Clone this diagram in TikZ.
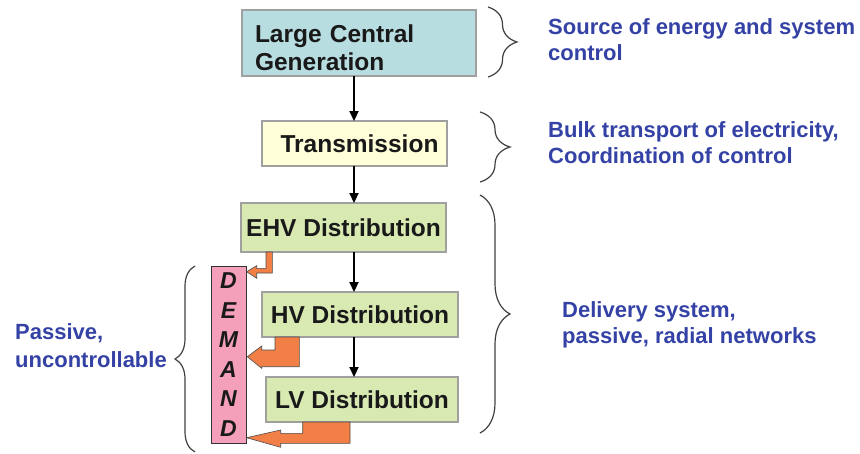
\documentclass[tikz,border=0pt]{standalone}
\usepackage{fontspec}
\setmainfont{Liberation Sans}
\usetikzlibrary{arrows.meta,decorations.pathreplacing}
\definecolor{genfill}{RGB}{184,221,225}
\definecolor{transfill}{RGB}{255,255,218}
\definecolor{distfill}{RGB}{216,234,178}
\definecolor{demfill}{RGB}{245,160,186}
\definecolor{feedfill}{RGB}{242,128,70}
\definecolor{notecol}{RGB}{52,66,165}
\definecolor{edgecol}{RGB}{160,160,160}
\begin{document}
\begin{tikzpicture}[x=1pt,y=-1pt,
  box/.style={draw=edgecol,line width=1.5pt,anchor=north west,outer sep=0pt,
    inner sep=0pt,text=black!90,font=\bfseries\fontsize{24.5}{28.5}\selectfont},
  flow/.style={line width=2.2pt,-{Triangle[length=10pt,width=9pt]}},
  feed/.style={fill=feedfill,draw=black!70,line width=0.6pt,line join=miter},
  curly/.style={draw=black!75,line width=1.2pt,decorate,
    decoration={brace,amplitude=#1}},
  note/.style={text=notecol,anchor=west,align=left,inner sep=0pt,
    font=\bfseries\fontsize{22}{26}\selectfont}]
\useasboundingbox (0,0) rectangle (860,453);
% Kasten
\node[box,fill=genfill,minimum width=234,minimum height=66,
  text width=208,align=left,text depth=19pt] (gen) at (242,10) {Large Central\\Generation};
\node[box,fill=transfill,minimum width=185,minimum height=45] (trans) at (262,121) {\hspace{10pt}Transmission};
\node[box,fill=distfill,minimum width=205,minimum height=49] (ehv) at (241,203) {EHV Distribution};
\node[box,fill=distfill,minimum width=196,minimum height=45] (hv) at (262,292) {HV Distribution};
\node[box,fill=distfill,minimum width=192,minimum height=45] (lv) at (266,377) {LV Distribution};
\node[box,fill=demfill,draw=black!80,line width=1pt,minimum width=35,minimum height=177,
  align=center,font=\bfseries\itshape\fontsize{23}{29.6}\selectfont] (demand) at (211,266)
  {D\\E\\M\\A\\N\\D};
% Pfeile
\coordinate (spine) at (354,0);
\draw[flow] (gen.south -| spine) -- (trans.north -| spine);
\draw[flow] (trans.south -| spine) -- (ehv.north -| spine);
\draw[flow] (ehv.south -| spine) -- (hv.north -| spine);
\draw[flow] (hv.south -| spine) -- (lv.north -| spine);
% Abgaben an die Last
\draw[feed] ([xshift=25pt]ehv.south west) -- ([xshift=31.3pt]ehv.south west) -- ++(0,21)
  -- ++(-15.6,0) -- ++(0,5.3) -- (246.7,271.7) -- (256.7,265.7) -- ++(0,2.6) -- (266,268.3) -- cycle;
\draw[feed] ([xshift=13pt]hv.south west) -- ([xshift=37.3pt]hv.south west) -- ++(0,29.7)
  -- ++(-37.6,0) -- ++(0,1.6) -- (247.3,356.7) -- (261.7,346) -- ++(0,4) -- (275,350) -- cycle;
\draw[feed] ([xshift=36.7pt]lv.south west) -- ([xshift=84pt]lv.south west) -- ++(0,21.3)
  -- ++(-69.3,0) -- ++(0,4) -- (246.5,437.7) -- (280.7,430) -- ++(0,3.3) -- (302.7,433.3) -- cycle;
% Klammern
\draw[curly=29] (488,7) -- (488,77);
\draw[curly=30] (480,112) -- (480,182);
\draw[curly=30] (480,195) -- (480,433);
\draw[curly=20] (195,452) -- (195,266);
% Texte
\node[note] (src) at (548,40) {Source of energy and system\\control};
\node[note] (bulk) at (548,143) {Bulk transport of electricity,\\Coordination of control};
\node[note] (deliv) at (562,325) {Delivery system,\\passive, radial networks};
\node[note,font=\bfseries\fontsize{22}{28}\selectfont] (passive) at (15,346) {Passive,\\uncontrollable};
\end{tikzpicture}
\end{document}
